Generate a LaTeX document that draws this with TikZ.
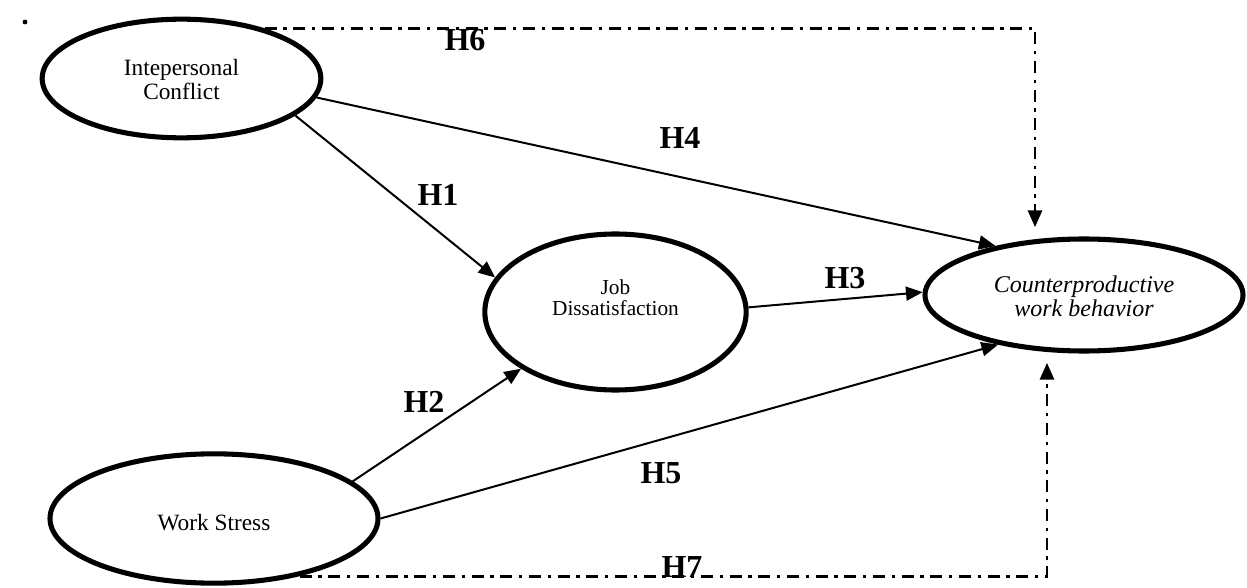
\documentclass[tikz,border=0pt]{standalone}
\usepackage{fontspec}
\setmainfont{Liberation Serif}
\usetikzlibrary{arrows.meta,calc,shapes.geometric}
\begin{document}
\begin{tikzpicture}[x=0.75pt,y=-0.75pt,
  oval/.style={draw, ellipse, line width=3.8pt, inner sep=0pt},
  lbl/.style={font=\fontsize{17.5}{18}\selectfont, align=center, inner sep=0pt},
  hyp/.style={font=\fontsize{24}{26}\selectfont\bfseries, inner sep=0pt},
  tip/.style={-{Triangle[length=12.5pt,width=10.5pt]}},
  link/.style={line width=1.5pt, tip},
  dd/.style={line width=2pt, dash pattern=on 9pt off 5pt on 2.5pt off 5pt, tip}]
\useasboundingbox (0,0) rectangle (1247,588);

% ellipses
\node[oval, minimum width=209pt, minimum height=89pt] (ic) at (181.5,78.5) {};
\node[oval, minimum width=196pt, minimum height=117pt] (job) at (615.5,312) {};
\node[oval, minimum width=238.5pt, minimum height=84pt] (cwb) at (1084,295) {};
\node[oval, minimum width=246pt, minimum height=97pt] (ws) at (214,518.5) {};

% texts
\node[lbl] (ictxt) at (181.5,80) {Intepersonal\\Conflict};
\node[lbl, font=\fontsize{16}{15.5}\selectfont] (jobtxt) at (615.5,298) {Job\\Dissatisfaction};
\node[lbl, font=\fontsize{18}{18}\selectfont\itshape] (cwbtxt) at (1084,296) {Counterproductive\\work behavior};
\node[lbl] (wstxt) at (214,523) {Work Stress};

% dot
\node[circle, fill, inner sep=1.3pt] (dot) at (25,22) {};

% connectors
\draw[link] (ic.-18.2) -- (job.164.2);
\draw[link] (ic.-8.2) -- (cwb.151.6);
\draw[link] (job.2.3) -- (cwb.179.6);
\draw[link] (ws.15.6) -- (job.211.2);
\draw[link] (ws.0.8) -- (cwb.210.5);
\draw[dd, shorten >=7pt] (ic.31.5) -| ($(cwb.north)+(-49,0)$);
\draw[dd, shorten >=7pt] (ws.-34.7) -| ($(cwb.south)+(-37,0)$);

% hypothesis labels
\node[hyp] (h6) at (465,40) {H6};
\node[hyp] (h4) at (680,138) {H4};
\node[hyp] (h1) at (438,195) {H1};
\node[hyp] (h3) at (845,278) {H3};
\node[hyp] (h2) at (424,402) {H2};
\node[hyp] (h5) at (661,473) {H5};
\node[hyp] (h7) at (682,567) {H7};
\end{tikzpicture}
\end{document}
